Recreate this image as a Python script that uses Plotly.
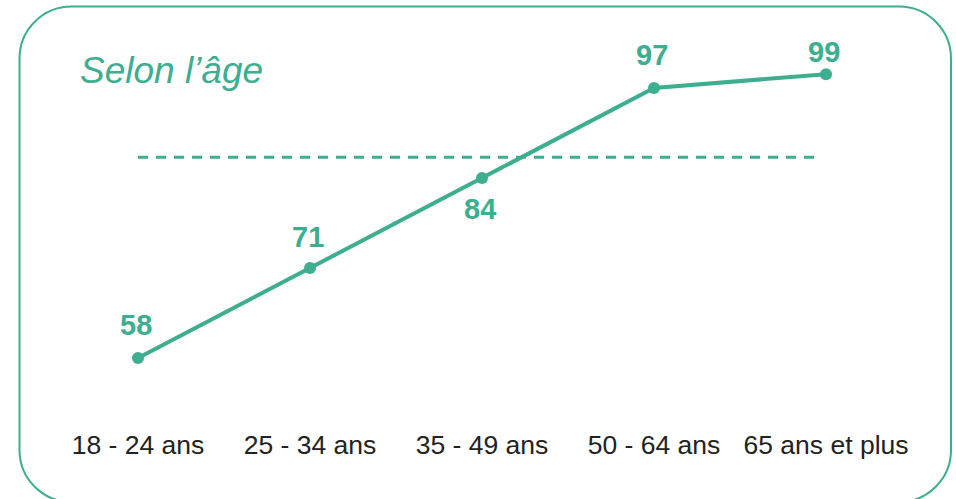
import plotly.graph_objects as go

categories = ["18 - 24 ans", "25 - 34 ans", "35 - 49 ans", "50 - 64 ans", "65 ans et plus"]
values = [58, 71, 84, 97, 99]
label_shift = [33, 31, -31, 33, 22]   # px offset of value labels (style)
reference_value = 87
title_text = "Selon l’âge"

TEAL = "#3dae90"
W, H = 956, 499
L, R, T, B = 52, 44, 20, 79
pw, ph = W - L - R, H - T - B

def px(x):
    return (x - L) / pw

def py(y):
    return (H - B - y) / ph

fig = go.Figure()
xs = list(range(len(categories)))
fig.add_trace(go.Scatter(
    x=xs, y=values, mode="lines+markers",
    line=dict(color=TEAL, width=4),
    marker=dict(color=TEAL, size=12),
    hoverinfo="skip", showlegend=False,
))

for x, v, s in zip(xs, values, label_shift):
    fig.add_annotation(x=x, y=v, text=f"<b>{v}</b>", showarrow=False,
                       yshift=s, xshift=-2,
                       font=dict(family="Liberation Sans, Arial", size=29, color=TEAL))

# reference dashed line
fig.add_shape(type="line", xref="x", yref="y", x0=0, x1=3.97,
              y0=reference_value, y1=reference_value,
              line=dict(color=TEAL, width=3, dash="10px,8px"))

# rounded border
x0, x1, y0, y1, r = 19.5, 951, 6.5, 502, 52
k = 0.5523 * r
pts = [
    ("M", [(x0 + r, y0)]),
    ("L", [(x1 - r, y0)]),
    ("C", [(x1 - r + k, y0), (x1, y0 + r - k), (x1, y0 + r)]),
    ("L", [(x1, y1 - r)]),
    ("C", [(x1, y1 - r + k), (x1 - r + k, y1), (x1 - r, y1)]),
    ("L", [(x0 + r, y1)]),
    ("C", [(x0 + r - k, y1), (x0, y1 - r + k), (x0, y1 - r)]),
    ("L", [(x0, y0 + r)]),
    ("C", [(x0, y0 + r - k), (x0 + r - k, y0), (x0 + r, y0)]),
]
path = " ".join(cmd + " " + " ".join(f"{px(a):.5f},{py(b):.5f}" for a, b in p) for cmd, p in pts)
fig.add_shape(type="path", xref="paper", yref="paper", path=path,
              line=dict(color=TEAL, width=2), layer="below")

fig.add_annotation(xref="paper", yref="paper", x=px(78), y=py(70),
                   xanchor="left", yanchor="middle", showarrow=False,
                   text=title_text,
                   font=dict(family="Liberation Sans, Arial", size=37, color=TEAL, style="italic"))

fig.update_layout(
    width=W, height=H,
    margin=dict(l=L, r=R, t=T, b=B),
    paper_bgcolor="white", plot_bgcolor="white",
    xaxis=dict(range=[-0.5, 4.5], tickvals=xs, ticktext=categories,
               showgrid=False, zeroline=False, showline=False, ticks="",
               tickfont=dict(family="Liberation Sans, Arial", size=26.5, color="#222222"),
               ticklabelstandoff=6, fixedrange=True),
    yaxis=dict(range=[49.04, 106.82], visible=False, fixedrange=True),
)

fig.write_html("out.html", config={"displayModeBar": False},
               post_script="document.body.style.margin='0';document.body.style.overflow='hidden';")
